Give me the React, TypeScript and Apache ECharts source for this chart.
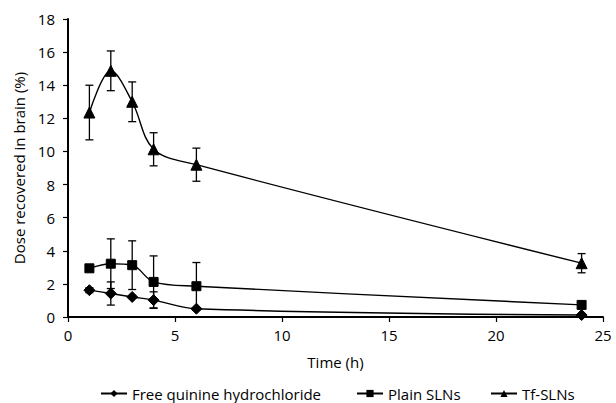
import React, { useEffect, useRef } from "react";
import * as echarts from "echarts";

const times = [1, 2, 3, 4, 6, 24];
const freeQuinine = [1.62, 1.42, 1.21, 1.02, 0.5, 0.12];
const freeQuinineErr = [0.15, 0.7, 0, 0.5, 0, 0];
const plainSLNs = [2.94, 3.22, 3.13, 2.12, 1.86, 0.73];
const plainSLNsErr = [0, 1.5, 1.47, 1.57, 1.43, 0];
const tfSLNs = [12.35, 14.87, 13.0, 10.13, 9.2, 3.25];
const tfSLNsErr = [1.65, 1.2, 1.2, 1.0, 1.0, 0.58];
const seriesNames = ["Free quinine hydrochloride", "Plain SLNs", "Tf-SLNs"];
const yTicks = [0, 2, 4, 6, 8, 10, 12, 14, 16, 18];
const xTicks = [0, 5, 10, 15, 20, 25];

const FONT = "Open Sans";
const FS = 15;

function errorSeries(values: number[], errs: number[]) {
  const data = times
    .map((t, i) => [t, values[i] - errs[i], values[i] + errs[i], errs[i]])
    .filter((d) => d[3] > 0);
  return {
    type: "custom",
    silent: true,
    z: 1,
    renderItem: (params: any, api: any) => {
      const x = api.value(0);
      const lo = api.coord([x, api.value(1)]);
      const hi = api.coord([x, api.value(2)]);
      const hw = 4;
      const style = { stroke: "#000", lineWidth: 1.3 };
      return {
        type: "group",
        children: [
          { type: "line", shape: { x1: lo[0], y1: lo[1], x2: hi[0], y2: hi[1] }, style },
          { type: "line", shape: { x1: lo[0] - hw, y1: lo[1], x2: lo[0] + hw, y2: lo[1] }, style },
          { type: "line", shape: { x1: hi[0] - hw, y1: hi[1], x2: hi[0] + hw, y2: hi[1] }, style },
        ],
      };
    },
    encode: { x: 0, y: [1, 2] },
    data,
  };
}

function lineSeries(name: string, values: number[], symbol: string, size: number) {
  return {
    name,
    type: "line",
    data: times.map((t, i) => [t, values[i]]),
    smooth: 0.35,
    symbol,
    symbolSize: size,
    showSymbol: true,
    z: 3,
    lineStyle: { color: "#000", width: 1.4 },
    itemStyle: { color: "#000", borderColor: "#000" },
  };
}

function legendAt(name: string, left: number) {
  return {
    top: 386,
    left,
    padding: 0,
    itemWidth: 26,
    itemHeight: 9,
    textStyle: { fontFamily: FONT, fontSize: FS, color: "#000" },
    data: [name],
  };
}

export default function App() {
  const ref = useRef<HTMLDivElement>(null);
  useEffect(() => {
    document.body.style.margin = "0";
    const chart = echarts.init(ref.current!, null, { renderer: "svg" });
    chart.setOption({
      animation: false,
      backgroundColor: "#fff",
      textStyle: { fontFamily: FONT },
      grid: { left: 68, right: 13, top: 19, bottom: 86 },
      legend: [
        legendAt(seriesNames[0], 100),
        legendAt(seriesNames[1], 356),
        legendAt(seriesNames[2], 490),
      ],
      xAxis: {
        type: "value",
        min: xTicks[0],
        max: xTicks[xTicks.length - 1],
        interval: 5,
        name: "Time (h)",
        nameLocation: "middle",
        nameGap: 37,
        nameTextStyle: { fontFamily: FONT, fontSize: FS, color: "#000" },
        axisLine: { lineStyle: { color: "#000", width: 2 } },
        axisTick: { show: true, inside: false, length: 5, lineStyle: { color: "#000", width: 1.2 } },
        axisLabel: { fontFamily: FONT, fontSize: FS, color: "#000", margin: 10 },
        splitLine: { show: false },
      },
      yAxis: {
        type: "value",
        min: yTicks[0],
        max: yTicks[yTicks.length - 1],
        interval: 2,
        name: "Dose recovered in brain (%)",
        nameLocation: "middle",
        nameGap: 40,
        nameTextStyle: { fontFamily: FONT, fontSize: FS, color: "#000" },
        axisLine: { show: true, lineStyle: { color: "#000", width: 2 } },
        axisTick: { show: true, inside: false, length: 5, lineStyle: { color: "#000", width: 1.2 } },
        axisLabel: { fontFamily: FONT, fontSize: FS, color: "#000", margin: 13 },
        splitLine: { show: false },
      },
      series: [
        errorSeries(freeQuinine, freeQuinineErr),
        errorSeries(plainSLNs, plainSLNsErr),
        errorSeries(tfSLNs, tfSLNsErr),
        lineSeries(seriesNames[0], freeQuinine, "diamond", 11),
        lineSeries(seriesNames[1], plainSLNs, "rect", 9),
        lineSeries(seriesNames[2], tfSLNs, "triangle", 11),
      ],
    });
    return () => chart.dispose();
  }, []);
  return <div ref={ref} style={{ width: 616, height: 403 }} />;
}
